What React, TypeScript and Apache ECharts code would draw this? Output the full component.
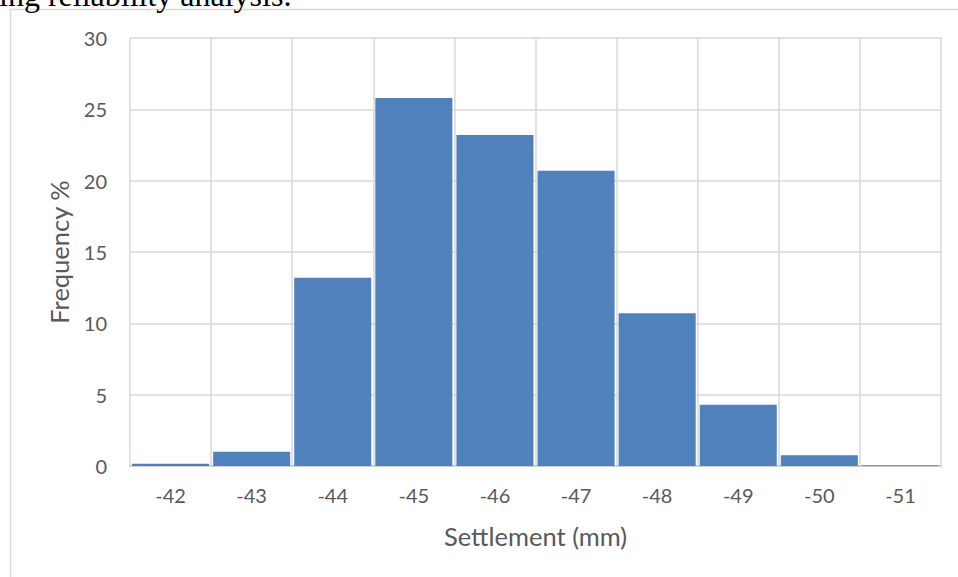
import React, { useEffect, useRef } from "react";
import * as echarts from "echarts";

// Settlement bins (mm) and the share of outcomes falling in each
const settlementBins = ["-42", "-43", "-44", "-45", "-46", "-47", "-48", "-49", "-50", "-51"];
const frequencyPct = [0.15, 1.0, 13.2, 25.8, 23.2, 20.7, 10.7, 4.3, 0.75, 0.05];

const yTicks = { min: 0, max: 30, step: 5 };

const FONT = "Lato, 'Open Sans', sans-serif";
const TEXT_GREY = "#595959";
const GRID_GREY = "#d9d9d9";

export default function App() {
  const ref = useRef<HTMLDivElement>(null);

  useEffect(() => {
    if (!ref.current) return;
    const chart = echarts.init(ref.current, undefined, { renderer: "svg" });
    chart.setOption({
      animation: false,
      backgroundColor: "#ffffff",
      grid: { left: 130, right: 17, top: 38, bottom: 111, containLabel: false },
      graphic: [
        {
          type: "rect",
          silent: true,
          shape: { x: 10.5, y: 9.5, width: 1200, height: 1200 },
          style: { fill: "none", stroke: GRID_GREY, lineWidth: 1.5 },
        },
        {
          type: "text",
          silent: true,
          x: -1,
          y: 11,
          style: {
            text: "ing reliability analysis.",
            font: "32px 'Liberation Serif', 'Times New Roman', serif",
            fill: "#000000",
            textVerticalAlign: "bottom",
          },
        },
      ],
      xAxis: {
        type: "category",
        data: settlementBins,
        boundaryGap: true,
        name: "Settlement (mm)",
        nameLocation: "middle",
        nameGap: 57,
        nameTextStyle: { fontFamily: FONT, fontSize: 25.5, color: TEXT_GREY },
        axisLine: { show: true, lineStyle: { color: "#c8c8c8", width: 1.5 } },
        axisTick: { show: false },
        axisLabel: { margin: 19, fontFamily: FONT, fontSize: 20, color: TEXT_GREY, interval: 0 },
        splitLine: { show: true, interval: 0, lineStyle: { color: GRID_GREY, width: 1.5 } },
      },
      yAxis: {
        type: "value",
        min: yTicks.min,
        max: yTicks.max,
        interval: yTicks.step,
        name: "Frequency %",
        nameLocation: "middle",
        nameGap: 58,
        nameTextStyle: { fontFamily: FONT, fontSize: 25.5, color: TEXT_GREY },
        axisLine: { show: false },
        axisTick: { show: false },
        axisLabel: { margin: 23, fontFamily: FONT, fontSize: 20, color: TEXT_GREY },
        splitLine: { show: true, lineStyle: { color: GRID_GREY, width: 1.5 } },
      },
      series: [
        {
          type: "bar",
          data: frequencyPct,
          barCategoryGap: "5%",
          itemStyle: { color: "#4f81bd" },
        },
      ],
    });
    return () => chart.dispose();
  }, []);

  return (
    <div
      ref={ref}
      style={{ position: "fixed", left: 0, top: 0, width: 958, height: 577, background: "#fff" }}
    />
  );
}
